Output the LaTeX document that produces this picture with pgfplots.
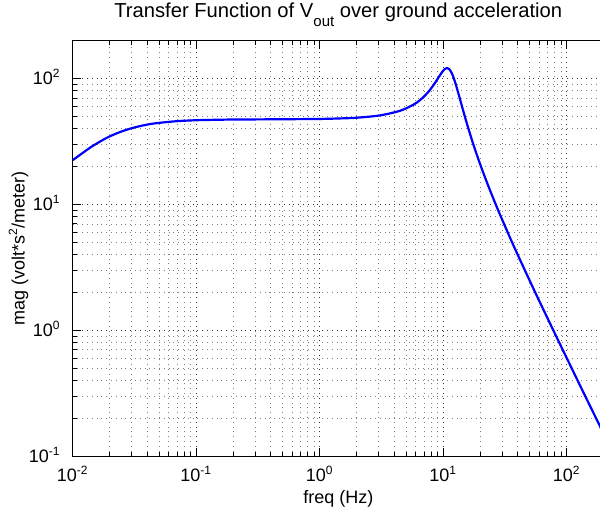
\documentclass[border=0pt]{standalone}
\usepackage{fontspec}
\setmainfont{Liberation Sans}
\usepackage{pgfplots}
\pgfplotsset{compat=1.18}

\begin{document}
\begin{tikzpicture}
\begin{axis}[
  scale only axis,
  width=265.6pt, height=207.8pt,
  xmode=log, ymode=log,
  xmin=0.01, xmax=200, ymin=0.1, ymax=200,
  font=\fontsize{9}{11}\selectfont,
  axis line style={black, line width=0.6pt},
  tick align=inside,
  ytick pos=left,
  xtick={0.01,0.1,1,10,100},
  xticklabels={10\textsuperscript{-2},10\textsuperscript{-1},10\textsuperscript{0},10\textsuperscript{1},10\textsuperscript{2}},
  ytick={0.1,1,10,100},
  yticklabels={10\textsuperscript{-1},10\textsuperscript{0},10\textsuperscript{1},10\textsuperscript{2}},
  minor xtick={0.02,0.03,0.04,0.05,0.06,0.07,0.08,0.09,0.2,0.3,0.4,0.5,0.6,0.7,0.8,0.9,2,3,4,5,6,7,8,9,20,30,40,50,60,70,80,90,200},
  minor ytick={0.2,0.3,0.4,0.5,0.6,0.7,0.8,0.9,2,3,4,5,6,7,8,9,20,30,40,50,60,70,80,90,200},
  grid=both,
  major grid style={black!80, dotted, line width=0.45pt},
  minor grid style={black!50, dotted, line width=0.45pt},
  major tick length=4pt, minor tick length=2pt,
  every tick/.style={black, line width=0.5pt},
  xticklabel style={anchor=base, yshift=-12.7pt},
  yticklabel style={anchor=base east, yshift=-3.2pt, xshift=-2.5pt},
  every axis title shift=0pt,
  title={Transfer Function of V\raisebox{-4.5pt}{\fontsize{7.5}{9}\selectfont out} over ground acceleration},
  title style={font=\fontsize{10.1}{12}\selectfont, at={(axis description cs:0.5,1.055)}, anchor=base},
  xlabel={freq (Hz)},
  xlabel style={at={(axis description cs:0.5,-0.113)}, anchor=base},
  ylabel={mag (volt*s\textsuperscript{2}/meter)},
  ylabel style={at={(axis description cs:-0.0904,0.5)}, anchor=base},
]
\addplot[blue, line width=1.1pt, smooth] coordinates {
  (0.01,22.5) (0.012,25.6) (0.014,28.5) (0.017,32.0) (0.02,34.8)
  (0.025,38.1) (0.031,40.7) (0.04,43.1) (0.05,44.5) (0.07,45.9)
  (0.1,46.7) (0.15,47.1) (0.2,47.3) (0.3,47.4) (0.5,47.55) (1,47.8)
  (1.5,48.3) (2,48.9) (3.07,51.0) (4.47,55.5) (5.73,62.0) (6.47,67.3)
  (7.2,74.2) (7.8,81.1) (8.6,92.7) (9.4,106.2) (10.0,115.7) (10.4,119.9)
  (10.8,121.2) (11.2,118.8) (11.6,112.9) (12.0,104.8) (12.5,93.2)
  (13.2,77.7) (14.5,55.8) (15.5,44.4) (16.4,37.0) (17.5,30.2) (19.2,23.1)
  (21,18.1) (23.9,13.0) (28,8.89) (34.8,5.43) (40,4.01) (53.7,2.15)
  (65,1.45) (83,0.88) (100,0.603) (136,0.324) (184,0.177) (200,0.149)
};
\end{axis}
\pgfresetboundingbox
\path[use as bounding box] (-36.35pt,-27.85pt) rectangle (263.65pt,228.15pt);
\end{tikzpicture}
\end{document}
